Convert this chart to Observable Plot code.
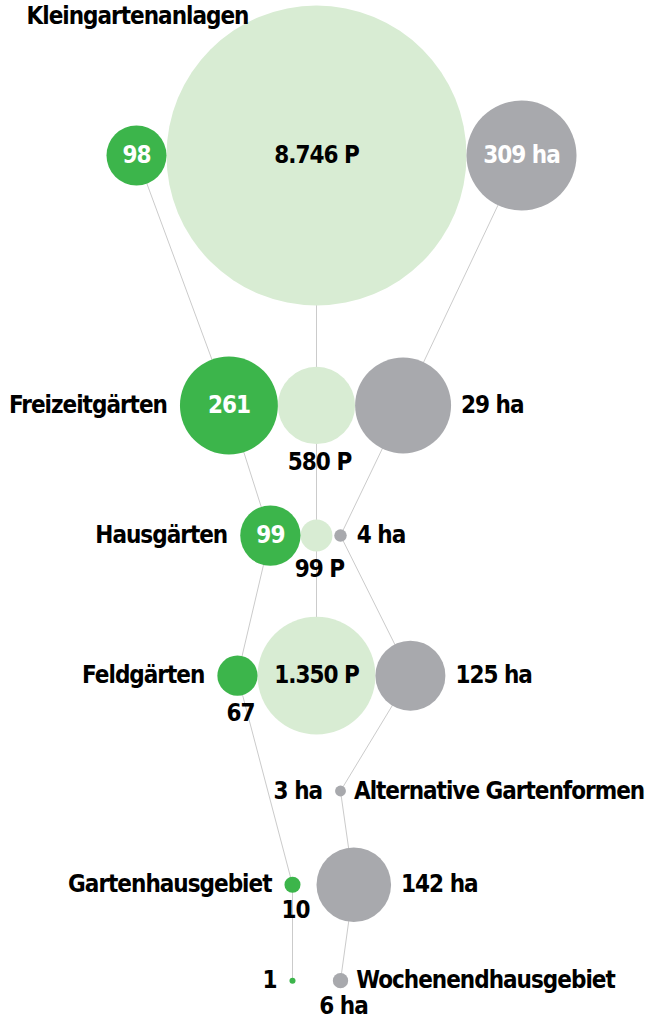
<!DOCTYPE html>
<html><head><meta charset="utf-8">
<script src="https://cdn.jsdelivr.net/npm/d3@7"></script>
<script src="https://cdn.jsdelivr.net/npm/@observablehq/plot@0.6"></script>
<style>body{margin:0;background:#fff;overflow:hidden}</style>
</head><body><div id="chart"></div>
<script>
// ---- data ----
const rows = ["Kleingartenanlagen", "Freizeitgärten", "Hausgärten", "Feldgärten",
              "Alternative Gartenformen", "Gartenhausgebiet", "Wochenendhausgebiet"];
// number of sites (green)
const sites = [98, 261, 99, 67, null, 10, 1];
// bubble size of green circles as drawn in the reference
const sitesBubble = [98, 261, 99, 44, null, 7, 1];
// parcels (light green)
const parcels = [8746, 580, 99, 1350, null, null, null];
// area in hectares (grey)
const hectares = [309, 29, 4, 125, 3, 142, 6];
// bubble size of grey circles as drawn in the reference
const hectaresBubble = [309, 235, 4, 125, 3, 142, 6];

// ---- build ----
const de = d3.formatLocale({decimal: ",", thousands: ".", grouping: [3], currency: ["", " €"]});
const fmt = de.format(",d");

const rSites = d3.scaleSqrt().domain([0, 98]).range([0, 30]);
const rParcels = d3.scaleSqrt().domain([0, 8746]).range([0, 150]);
const rHa = d3.scaleSqrt().domain([0, 309]).range([0, 55]);

const W = 646, H = 1023;
const cx = 316, minOff = 24, rowGap = 51, topPad = 5;
const GREEN = "#3cb54b", LIGHT = "#d8ecd3", GREY = "#a8a9ad", LINE = "#cbcbcb";

// placement hints for labels
const sitePlace = ["in", "in", "in", "below", null, "below", "left"];
const parcelPlace = ["in", "below", "below", "in"];
const haPlace = ["in", "right", "right", "right", "left", "right", "below"];
const rowPlace = ["top", "left", "left", "left", "right", "left", "right"];

const nodes = [];
let prevR = null, yPos = 0;
rows.forEach((row, i) => {
  const rg = sites[i] != null ? rSites(sitesBubble[i]) : 0;
  const rl = parcels[i] != null ? rParcels(parcels[i]) : 0;
  const rh = hectares[i] != null ? rHa(hectaresBubble[i]) : 0;
  const R = Math.max(rg, rl, rh);
  yPos = prevR == null ? topPad + R : yPos + prevR + R + rowGap;
  prevR = R;
  const yy = yPos;
  if (sites[i] != null) nodes.push({row: i, group: "sites", x: cx - Math.max(rl + rg, minOff), y: yy, r: rg,
    label: fmt(sites[i]), place: sitePlace[i], inFill: "white"});
  if (parcels[i] != null) nodes.push({row: i, group: "parcels", x: cx, y: yy, r: rl,
    label: fmt(parcels[i]) + " P", place: parcelPlace[i], inFill: "black"});
  if (hectares[i] != null) nodes.push({row: i, group: "ha", x: cx + Math.max(rl + rh, minOff), y: yy, r: rh,
    label: fmt(hectares[i]) + " ha", place: haPlace[i], inFill: "white"});
});

const labels = [];
nodes.forEach(n => {
  if (n.place === "in") labels.push({x: n.x, y: n.y, text: n.label, anchor: "middle", fill: n.inFill});
  else if (n.place === "below") labels.push({x: n.x + 3, y: n.y + n.r + 18, text: n.label, anchor: "middle", fill: "black"});
  else if (n.place === "left") labels.push({x: n.x - n.r - 13, y: n.y, text: n.label, anchor: "end", fill: "black"});
  else if (n.place === "right") labels.push({x: n.x + n.r + 10, y: n.y, text: n.label, anchor: "start", fill: "black"});
});
rows.forEach((row, i) => {
  const rn = nodes.filter(n => n.row === i);
  const first = rn[0], last = rn[rn.length - 1];
  const p = rowPlace[i];
  if (p === "top") labels.push({x: first.x - 110, y: first.y - 139, text: row, anchor: "start", fill: "black"});
  else if (p === "left") labels.push({x: first.x - first.r - 13, y: first.y, text: row, anchor: "end", fill: "black"});
  else labels.push({x: last.x + last.r + 8, y: last.y, text: row, anchor: "start", fill: "black"});
});

const textOpts = {x: "x", y: "y", text: "text", fill: "fill", fontWeight: "bold", fontSize: 24};
const chart = Plot.plot({
  width: W, height: H, margin: 0,
  x: {type: "identity", axis: null},
  y: {type: "identity", axis: null},
  r: {type: "identity"},
  color: {type: "identity"},
  style: {fontFamily: "'DejaVu Sans Condensed', 'Liberation Sans Narrow', sans-serif", background: "white", letterSpacing: "-1px"},
  marks: [
    Plot.line(nodes, {x: "x", y: "y", z: "group", stroke: LINE, strokeWidth: 1}),
    Plot.dot(nodes.filter(n => n.group === "parcels"), {x: "x", y: "y", r: "r", fill: LIGHT}),
    Plot.dot(nodes.filter(n => n.group === "sites"), {x: "x", y: "y", r: "r", fill: GREEN}),
    Plot.dot(nodes.filter(n => n.group === "ha"), {x: "x", y: "y", r: "r", fill: GREY}),
    Plot.text(labels.filter(d => d.anchor === "middle"), {...textOpts, textAnchor: "middle"}),
    Plot.text(labels.filter(d => d.anchor === "start"), {...textOpts, textAnchor: "start"}),
    Plot.text(labels.filter(d => d.anchor === "end"), {...textOpts, textAnchor: "end"})
  ]
});
document.getElementById("chart").append(chart);
</script>
</body></html>
